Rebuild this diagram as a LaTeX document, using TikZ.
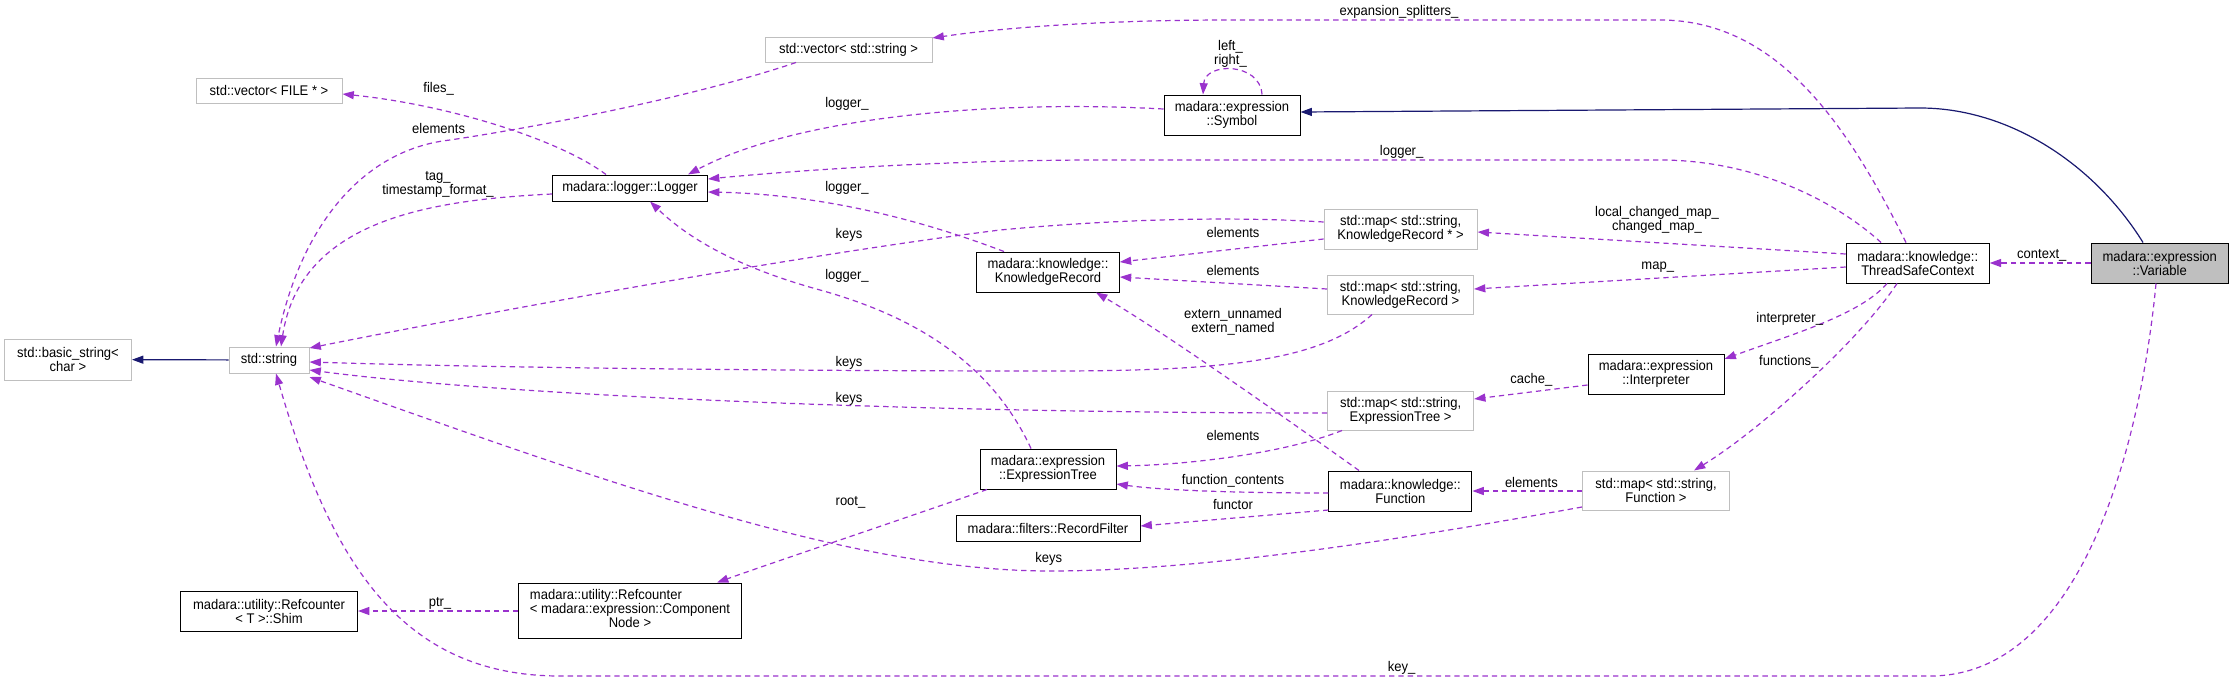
\documentclass[tikz,border=0pt]{standalone}
\usepackage{fontspec}
\setmainfont{Liberation Sans}[FakeStretch=0.93]
\usepackage{tikz}
\usetikzlibrary{arrows.meta, calc}
\definecolor{relcol}{HTML}{9A32CD}
\definecolor{inhcol}{HTML}{191970}
\definecolor{extcol}{HTML}{BFBFBF}
\newcommand{\lblfont}{\fontsize{10.5}{10.5}\selectfont}

\begin{document}
\begin{tikzpicture}[x=0.75pt, y=-0.75pt,
  box/.style={draw=black, line width=0.75pt, fill=white, inner sep=0pt, align=center, font=\lblfont},
  ext/.style={box, draw=extcol},
  cur/.style={box, fill=extcol},
  rel/.style={-{Triangle[length=8.5pt,width=6pt]}, relcol, line width=0.9pt, dash pattern=on 4pt off 3pt},
  inh/.style={-{Triangle[length=8.5pt,width=6pt]}, inhcol, line width=0.9pt},
  lab/.style={font=\lblfont, inner sep=0pt, align=center}]
  \useasboundingbox (0,0) rectangle (2233,682);

  % classes
  \node[ext] (vecfile) at (269,90.5) [minimum width=109.5pt, minimum height=18.75pt] {std::vector< FILE * >};
  \node[box] (logger) at (630,188) [minimum width=116.25pt, minimum height=19.5pt] {madara::logger::Logger};
  \node[ext] (basicstr) at (68,359.5) [minimum width=95.25pt, minimum height=30.75pt] {std::basic\_string<\\char >};
  \node[ext] (stdstr) at (269,360) [minimum width=60pt, minimum height=19.5pt] {std::string};
  \node[box] (shim) at (269,611) [minimum width=132.75pt, minimum height=30pt] {madara::utility::Refcounter\\< T >::Shim};
  \node[box] (refcn) at (630,610.5) [minimum width=167.25pt, minimum height=41.25pt]
    {\begin{tabular}{@{}l@{}}madara::utility::Refcounter\\< madara::expression::Component\\\multicolumn{1}{@{}c@{}}{Node >}\end{tabular}};
  \node[ext] (vecstr) at (848.5,49.5) [minimum width=125.25pt, minimum height=18.75pt] {std::vector< std::string >};
  \node[box] (symbol) at (1232,115) [minimum width=102pt, minimum height=30pt] {madara::expression\\::Symbol};
  \node[box] (krec) at (1048,272) [minimum width=107pt, minimum height=30pt] {madara::knowledge::\\KnowledgeRecord};
  \node[ext] (mapkrp) at (1400.6,229) [minimum width=114.75pt, minimum height=30pt] {std::map< std::string,\\KnowledgeRecord * >};
  \node[ext] (mapkr) at (1400.5,294.5) [minimum width=109.5pt, minimum height=29.25pt] {std::map< std::string,\\KnowledgeRecord >};
  \node[box] (etree) at (1048,469) [minimum width=102pt, minimum height=30pt] {madara::expression\\::ExpressionTree};
  \node[box] (rfilter) at (1048,528) [minimum width=138pt, minimum height=19.5pt] {madara::filters::RecordFilter};
  \node[ext] (mapet) at (1400.6,410.5) [minimum width=109.5pt, minimum height=29.25pt] {std::map< std::string,\\ExpressionTree >};
  \node[box] (func) at (1400.4,491) [minimum width=107.25pt, minimum height=30pt] {madara::knowledge::\\Function};
  \node[box] (tsc) at (1917.7,263) [minimum width=107.25pt, minimum height=30pt] {madara::knowledge::\\ThreadSafeContext};
  \node[cur] (variable) at (2159.7,263) [minimum width=102.75pt, minimum height=30pt] {madara::expression\\::Variable};
  \node[box] (interp) at (1656,374) [minimum width=102pt, minimum height=30pt] {madara::expression\\::Interpreter};
  \node[ext] (mapfunc) at (1656,490.5) [minimum width=110.25pt, minimum height=29.25pt] {std::map< std::string,\\Function >};

  % inheritance
  \draw[inh] (stdstr) -- (basicstr);
  \draw[inh] (variable.north -| 2143,0) .. controls (2095,165) and (2010,108) .. (1920,108) -- (symbol.east |- 0,112);

  % members
  \draw[rel] (symbol.north -| 1262,0) .. controls (1260,62) and (1205,62) .. (symbol.north -| 1203,0);
  \draw[rel] (variable) -- (tsc);
  \draw[rel] (variable.south -| 2156,0) .. controls (2140,450) and (2080,676) .. (1930,676) -- (560,676) .. controls (400,676) and (330,560) .. (stdstr.south -| 276,0);
  \draw[rel] (tsc.north -| 1906,0) .. controls (1850,130) and (1780,20) .. (1660,20) -- (1230,20) .. controls (1100,20) and (1000,28) .. (vecstr.east |- 0,38);
  \draw[rel] (tsc.north -| 1881,0) .. controls (1840,205) and (1760,160) .. (1660,160) -- (1100,160) .. controls (950,160) and (800,170) .. (logger.east |- 0,179);
  \draw[rel] (tsc.west |- 0,254) -- (mapkrp.east |- 0,232);
  \draw[rel] (tsc.west |- 0,267) -- (mapkr.east |- 0,289);
  \draw[rel] (tsc.south -| 1887,0) .. controls (1860,315) and (1790,335) .. (interp.east |- 0,359);
  \draw[rel] (tsc.south -| 1897,0) .. controls (1860,340) and (1760,430) .. (mapfunc.north -| 1694,0);
  \draw[rel] (interp.west |- 0,385) -- (mapet.east |- 0,399);
  \draw[rel] (mapfunc.west |- 0,491) -- (func.east |- 0,491);
  \draw[rel] (mapfunc.west |- 0,507) .. controls (1400,540) and (1200,571) .. (1050,571) .. controls (850,571) and (600,480) .. (stdstr.east |- 0,377);
  \draw[rel] (func.west |- 0,493) .. controls (1230,493) and (1160,490) .. (etree.east |- 0,484);
  \draw[rel] (func.west |- 0,510) -- (rfilter.east |- 0,526);
  \draw[rel] (func.north -| 1359,0) .. controls (1260,400) and (1160,330) .. (krec.south -| 1096,0);
  \draw[rel] (mapet.south -| 1342,0) .. controls (1280,455) and (1180,465) .. (etree.east |- 0,466);
  \draw[rel] (mapet.west |- 0,413) .. controls (900,413) and (500,395) .. (stdstr.east |- 0,370);
  \draw[rel] (mapkr.west |- 0,289) -- (krec.east |- 0,277);
  \draw[rel] (mapkr.south -| 1372,0) .. controls (1320,362) and (1220,371) .. (1050,371) .. controls (800,371) and (500,368) .. (stdstr.east |- 0,362);
  \draw[rel] (mapkrp.west |- 0,239) -- (krec.east |- 0,262);
  \draw[rel] (mapkrp.west |- 0,222) .. controls (1260,218) and (1150,216) .. (1000,230) .. controls (800,255) and (500,310) .. (stdstr.east |- 0,348);
  \draw[rel] (krec.north -| 1004,0) .. controls (960,235) and (850,195) .. (logger.east |- 0,192);
  \draw[rel] (symbol.west |- 0,109) .. controls (1000,100) and (800,115) .. (logger.north -| 688,0);
  \draw[rel] (etree.north -| 1031,0) .. controls (990,360) and (910,315) .. (820,290) .. controls (740,268) and (690,240) .. (logger.south -| 650,0);
  \draw[rel] (etree.south -| 987,0) .. controls (900,520) and (780,560) .. (refcn.north -| 717,0);
  \draw[rel] (refcn.west |- 0,611) -- (shim.east |- 0,611);
  \draw[rel] (logger.north -| 606,0) .. controls (560,140) and (450,105) .. (vecfile.east |- 0,94);
  \draw[rel] (logger.west |- 0,194) .. controls (430,200) and (300,220) .. (stdstr.north -| 281,0);
  \draw[rel] (vecstr.south -| 796,0) .. controls (700,95) and (550,125) .. (450,140) .. controls (360,150) and (300,230) .. (stdstr.north -| 276,0);

  % labels
  \node[lab] (lleft) at (1230.5,54) {left\_\\right\_};
  \node[lab] (lsplit) at (1399,12) {expansion\_splitters\_};
  \node[lab] (ltsclog) at (1401.6,152) {logger\_};
  \node[lab] (lsymlog) at (847,104) {logger\_};
  \node[lab] (lkrlog) at (847,188) {logger\_};
  \node[lab] (lkeys1) at (849,235) {keys};
  \node[lab] (letlog) at (847,276) {logger\_};
  \node[lab] (lelem1) at (1233,232.7) {elements};
  \node[lab] (lelem2) at (1233,270.7) {elements};
  \node[lab] (lextern) at (1233,322) {extern\_unnamed\\extern\_named};
  \node[lab] (lkeys2) at (849,362.7) {keys};
  \node[lab] (lkeys3) at (849,399) {keys};
  \node[lab] (lelem3) at (1233,435.7) {elements};
  \node[lab] (lcontents) at (1233,480.7) {function\_contents};
  \node[lab] (lfunctor) at (1233,504.3) {functor};
  \node[lab] (lroot) at (850.5,502.7) {root\_};
  \node[lab] (lkeys4) at (1048.7,559.3) {keys};
  \node[lab] (lkey) at (1401.6,667.7) {key\_};
  \node[lab] (lchanged) at (1657,220) {local\_changed\_map\_\\changed\_map\_};
  \node[lab] (lmap) at (1657.7,266.7) {map\_};
  \node[lab] (linterp) at (1789.7,319) {interpreter\_};
  \node[lab] (lcontext) at (2041.8,255) {context\_};
  \node[lab] (lcache) at (1531.4,380) {cache\_};
  \node[lab] (lfunctions) at (1788.8,362.3) {functions\_};
  \node[lab] (lelem4) at (1531.4,482.7) {elements};
  \node[lab] (lptr) at (440,603.3) {ptr\_};
  \node[lab] (lfiles) at (438.6,89) {files\_};
  \node[lab] (ltag) at (438,184) {tag\_\\timestamp\_format\_};
  \node[lab] (lelem5) at (438.6,128.3) {elements};
\end{tikzpicture}
\end{document}
